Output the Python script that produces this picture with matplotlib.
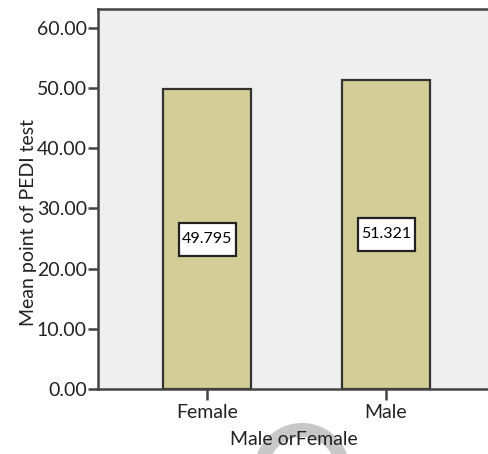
import numpy as np
import matplotlib.pyplot as plt
from matplotlib.patches import Wedge, Rectangle
from matplotlib.transforms import IdentityTransform, ScaledTranslation

genders = ['Female', 'Male']
means = [49.795, 51.321]
yticks = [0, 10, 20, 30, 40, 50, 60]

plt.rcParams['font.family'] = ['Lato', 'DejaVu Sans']

W, H = 489, 454
fig = plt.figure(figsize=(W / 100, H / 100), dpi=100)
fig.patch.set_facecolor('white')

# faint watermark arc behind the x label (pixel coords, origin bottom-left)
ring = Wedge((302, H - 471), 48, 0, 180, width=14,
             transform=IdentityTransform(), facecolor='#c8c8c8',
             edgecolor='none', zorder=-1)
fig.patches.append(ring)

ax = fig.add_axes([98 / W, 1 - 389 / H, (W - 98) / W, (389 - 9) / H])
ax.set_facecolor('#efefef')

x = np.arange(len(genders))
ax.bar(x, means, width=0.49, color='#d3ce98', edgecolor='#333333',
       linewidth=1.6, zorder=2)

# value labels: white box (sized in inches) centred at half bar height
for xi, m in zip(x, means):
    tr = fig.dpi_scale_trans + ScaledTranslation(xi, m / 2, ax.transData)
    ax.add_patch(Rectangle((-0.285, -0.165), 0.57, 0.33, transform=tr,
                           facecolor='white', edgecolor='#222222',
                           linewidth=1.6, zorder=3))
    ax.text(xi, m / 2, '%.3f' % m, ha='center', va='center', fontsize=11.5,
            color='black', zorder=4)

ax.set_xlim(-0.609, 1.575)
ax.set_ylim(0, 63.1)
ax.set_xticks(x)
ax.set_xticklabels(genders)
ax.set_yticks(yticks)
ax.set_yticklabels(['%.2f' % v for v in yticks])

ax.spines['right'].set_visible(False)
for s in ['left', 'bottom', 'top']:
    ax.spines[s].set_color('#444444')
    ax.spines[s].set_linewidth(1.8)

ax.tick_params(axis='both', direction='out', length=7, width=1.8,
               color='#444444', labelsize=14, labelcolor='#222222', pad=1)
ax.tick_params(axis='x', length=8, pad=3)

ax.set_xlabel('Male orFemale', fontsize=14, color='#222222', va='center')
ax.set_ylabel('Mean point of PEDI test', fontsize=14, color='#222222',
              va='center')
ax.xaxis.set_label_coords(0.5, -0.134)
ax.yaxis.set_label_coords(-0.179, 0.437)

fig.savefig('out.png', dpi=100)
